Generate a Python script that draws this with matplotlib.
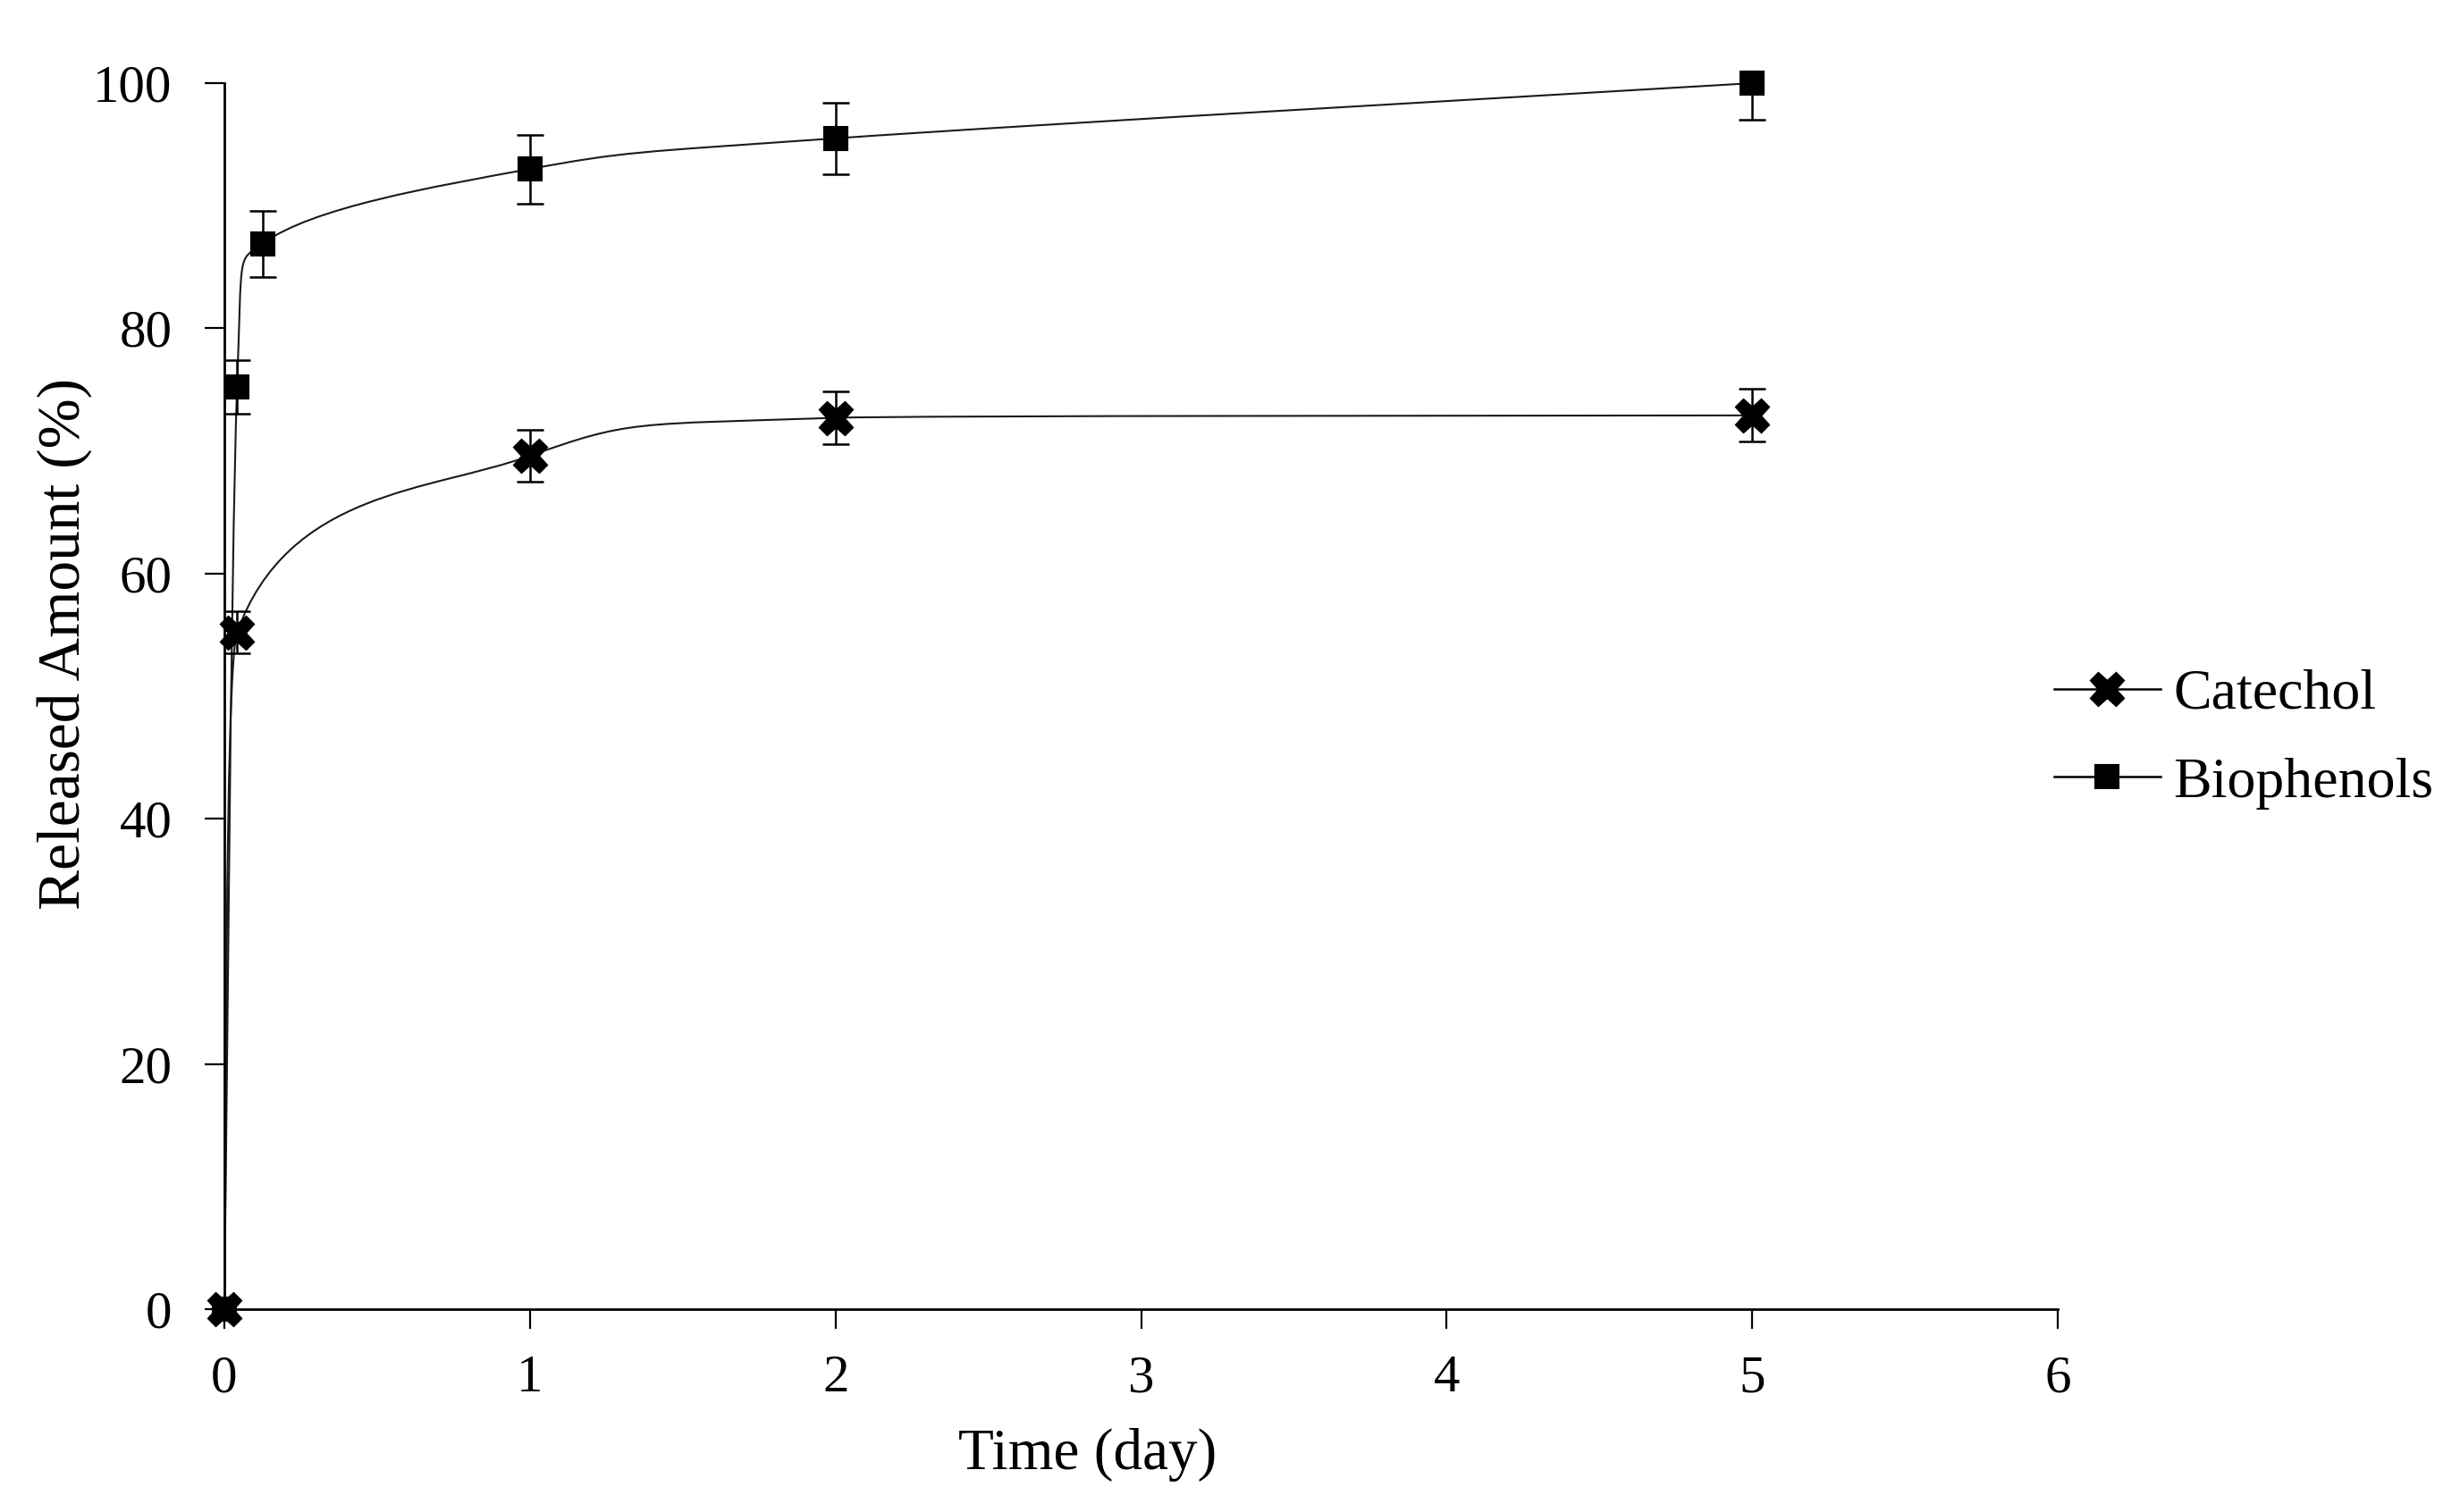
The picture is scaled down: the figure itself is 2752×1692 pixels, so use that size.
import numpy as np
import matplotlib
matplotlib.use("Agg")
import matplotlib.pyplot as plt
from matplotlib.path import Path
from matplotlib.patches import PathPatch
from matplotlib.lines import Line2D

plt.rcParams['font.family'] = ['Liberation Serif', 'DejaVu Serif']

# data (time in days, released amount in %)
time_cat = [0, 1 / 24, 1, 2, 5]
catechol = [0, 55.2, 69.6, 72.7, 72.9]
catechol_err = [0, 1.7, 2.1, 2.15, 2.15]

time_bio = [0, 1 / 24, 0.125, 1, 2, 5]
biophenols = [0, 75.2, 86.9, 93.0, 95.5, 100.0]
biophenols_err = [0, 2.2, 2.7, 2.8, 2.9, 3.0]

x_ticks = [0, 1, 2, 3, 4, 5, 6]
y_ticks = [0, 20, 40, 60, 80, 100]


def clamp(t, dx, dy):
    # keep control points inside the segment box so the curve does not loop
    s = 1.0
    if t[0] != 0 and abs(t[0]) > abs(dx):
        s = min(s, abs(dx) / abs(t[0]))
    if t[1] != 0 and abs(t[1]) > abs(dy):
        s = min(s, abs(dy) / abs(t[1]))
    return t * s


def smooth_path(x, y):
    # spreadsheet-style smoothed line: cubic bezier between the points
    x = np.asarray(x, float)
    y = np.asarray(y, float)
    n = len(x)
    verts = [(x[0], y[0])]
    codes = [Path.MOVETO]
    for i in range(n - 1):
        a = i - 1 if i > 0 else i
        b = i + 2 if i + 2 < n else i + 1
        dx, dy = x[i + 1] - x[i], y[i + 1] - y[i]
        t1 = clamp(np.array([x[i + 1] - x[a], y[i + 1] - y[a]]) / 6, dx, dy)
        t2 = clamp(np.array([x[b] - x[i], y[b] - y[i]]) / 6, dx, dy)
        verts += [(x[i] + t1[0], y[i] + t1[1]),
                  (x[i + 1] - t2[0], y[i + 1] - t2[1]),
                  (x[i + 1], y[i + 1])]
        codes += [Path.CURVE4] * 3
    return Path(verts, codes)


fig = plt.figure(figsize=(27.52, 16.92), dpi=100)
ax = fig.add_axes([0.0912, 0.1342, 0.7453, 0.8108])

line_kw = dict(fill=False, edgecolor='#1a1a1a', lw=1.5, zorder=2)
ax.add_patch(PathPatch(smooth_path(time_cat, catechol), **line_kw))
ax.add_patch(PathPatch(smooth_path(time_bio, biophenols), **line_kw))

err_kw = dict(fmt='none', ecolor='black', elinewidth=1.8, capsize=10.5,
              capthick=1.8, zorder=3)
for t, v, e in [(time_cat, catechol, catechol_err),
                (time_bio, biophenols, biophenols_err)]:
    t, v, e = np.array(t), np.array(v), np.array(e)
    m = e > 0
    ax.errorbar(t[m], v[m], yerr=e[m], **err_kw)

cat_mk = dict(marker='X', ms=28, mfc='black', mec='black', mew=1)
bio_mk = dict(marker='s', ms=19, mfc='black', mec='black', mew=1.5)
ax.plot(time_cat, catechol, ls='none', zorder=4, clip_on=False, **cat_mk)
ax.plot(time_bio, biophenols, ls='none', zorder=4, clip_on=False, **bio_mk)

ax.set_xlim(0, 6)
ax.set_ylim(0, 100)
ax.set_xticks(x_ticks)
ax.set_yticks(y_ticks)
for s in ['top', 'right']:
    ax.spines[s].set_visible(False)
for s in ['left', 'bottom']:
    ax.spines[s].set_linewidth(2.0)
ax.tick_params(axis='both', direction='out', length=16, width=1.6,
               labelsize=42.5, colors='black')
ax.tick_params(axis='y', pad=26)
ax.tick_params(axis='x', pad=21)

ax.set_xlabel('Time (day)', fontsize=47)
ax.set_ylabel('Released Amount (%)', fontsize=48.5)
ax.xaxis.set_label_coords(0.471, -0.097)
ax.yaxis.set_label_coords(-0.072, 0.543)

handles = [Line2D([], [], color='black', lw=1.8, **cat_mk),
           Line2D([], [], color='black', lw=1.8, **bio_mk)]
ax.legend(handles, ['Catechol', 'Biophenols'], loc='center left',
          bbox_to_anchor=(0.998, 0.465), frameon=False, fontsize=46,
          handlelength=1.86, handletextpad=0.23, labelspacing=0.63,
          borderpad=0, borderaxespad=0)

fig.savefig('out.png', dpi=100, facecolor='white')
